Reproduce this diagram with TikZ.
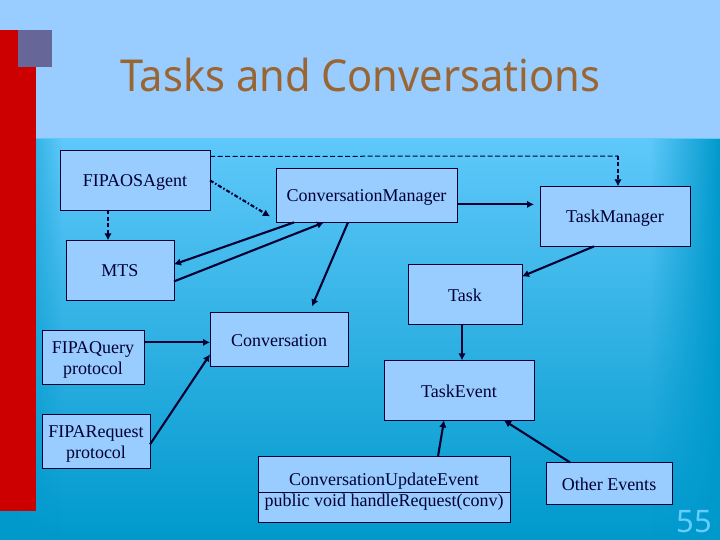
\documentclass[tikz,border=0pt]{standalone}
\usepackage{fontspec}
\setmainfont{Liberation Serif}
\newfontfamily\titlefont[FakeStretch=0.945]{Noto Sans}
\newfontfamily\numfont{Noto Sans}
\usetikzlibrary{arrows.meta,fadings}
\definecolor{skypale}{HTML}{99CCFF}
\definecolor{skytop}{HTML}{5FC8FA}
\definecolor{deepblue}{HTML}{0099CC}
\definecolor{inkblue}{HTML}{000033}
\definecolor{redbar}{HTML}{CC0000}
\definecolor{slatebox}{HTML}{666699}
\definecolor{titlebrown}{HTML}{996633}
\definecolor{pagenum}{HTML}{66CCFF}
\tikzfading[name=edgeright,left color=transparent!100,right color=transparent!0]
\tikzfading[name=edgeleft,left color=transparent!0,right color=transparent!100]
\tikzset{
  x=1pt,y=-1pt,
  boxnode/.style={draw=inkblue,line width=1pt,fill=skypale,text=inkblue,inner sep=0pt,outer sep=0pt,
    font=\fontsize{18}{21}\selectfont,anchor=north west},
  link/.style={draw=inkblue,line width=2.1pt,-{Latex[length=7pt,width=7.5pt]}},
  dashlink/.style={link,dash pattern=on 4pt off 2.5pt},
  dotlink/.style={link,dash pattern=on 4pt off 2pt on 1.5pt off 2pt},
  thindash/.style={draw=inkblue,line width=1pt,dash pattern=on 5pt off 2.5pt},
}
\newcommand{\boxat}[6]{\node[boxnode,minimum width=#4pt,minimum height=#5pt,yshift=-0.4pt] (#1) at (#2,#3) {\raisebox{-2.4pt}[\height][\depth]{\begin{tabular}{@{}c@{}}#6\end{tabular}}};}
\begin{document}
\begin{tikzpicture}
\useasboundingbox (0,0) rectangle (720,540);
\fill[skypale] (0,0) rectangle (720,139);
\shade[top color=skytop,bottom color=deepblue,middle color=skytop!50!deepblue] (0,139) rectangle (720,540);
\fill[deepblue,path fading=edgeright] (650,139) rectangle (720,540);
\fill[deepblue,path fading=edgeleft] (0,139) rectangle (62,540);
\fill[redbar] (0,30) rectangle (36,511);
\fill[slatebox] (18,30) rectangle (52,67);
\node[font=\titlefont\fontsize{44}{54}\selectfont,text=titlebrown,anchor=base west,inner sep=0pt] (title) at (120,92) {Tasks and Conversations};
\boxat{agent}{60}{150}{150}{60}{FIPAOSAgent}
\boxat{cm}{276}{168}{181}{54}{ConversationManager}
\boxat{tm}{540}{186}{150}{60}{TaskManager}
\boxat{mts}{66}{240}{108}{60}{MTS}
\boxat{task}{408}{264}{114}{60}{Task}
\boxat{conv}{210}{312}{138}{54}{Conversation}
\boxat{query}{42}{330}{102}{54}{FIPAQuery\\protocol}
\boxat{request}{42}{414}{108}{54}{FIPARequest\\protocol}
\boxat{te}{384}{360}{150}{60}{TaskEvent}
\boxat{cue}{258}{456}{252}{66}{ConversationUpdateEvent\\public void handleRequest(conv)}
\boxat{other}{546}{462}{126}{42}{Other Events}
\draw[draw=inkblue,line width=1pt] ([yshift=-36pt]cue.north west) -- ([yshift=-36pt]cue.north east);
% connectors
\draw[dashlink] ([xshift=48pt]agent.south west) -- ([xshift=42pt]mts.north west);
\draw[dotlink] ([yshift=-30pt]agent.north east) -- ([xshift=-6pt,yshift=6pt]cm.south west);
\coordinate (corner) at (618,156);
\draw[thindash] ([yshift=-6pt]agent.north east) -- (corner);
\draw[dashlink] (corner) -- ([xshift=78pt]tm.north west);
\draw[link] ([xshift=18pt]cm.south west) -- ([yshift=-24pt]mts.north east);
\draw[link] ([yshift=-41pt]mts.north east) -- ([xshift=48pt]cm.south west);
\draw[link] ([yshift=-36pt]cm.north east) -- ([xshift=-6pt,yshift=-18pt]tm.north west);
\draw[link] ([xshift=72pt]cm.south west) -- ([xshift=102pt,yshift=6pt]conv.north west);
\draw[link] ([xshift=54pt]tm.south west) -- ([yshift=-12pt]task.north east);
\draw[link] ([xshift=54pt]task.south west) -- ([xshift=78pt]te.north west);
\draw[link] ([yshift=-12pt]query.north east) -- ([yshift=-30pt]conv.north west);
\draw[link] ([yshift=-30pt]request.north east) -- ([yshift=-42pt]conv.north west);
\draw[link] ([xshift=180pt]cue.north west) -- ([xshift=60pt]te.south west);
\draw[link] ([xshift=24pt]other.north west) -- ([xshift=120pt]te.south west);
\node[font=\numfont\fontsize{31}{36}\selectfont,text=pagenum,anchor=base east,inner sep=0pt] (pageno) at (712,532) {55};
\end{tikzpicture}
\end{document}
